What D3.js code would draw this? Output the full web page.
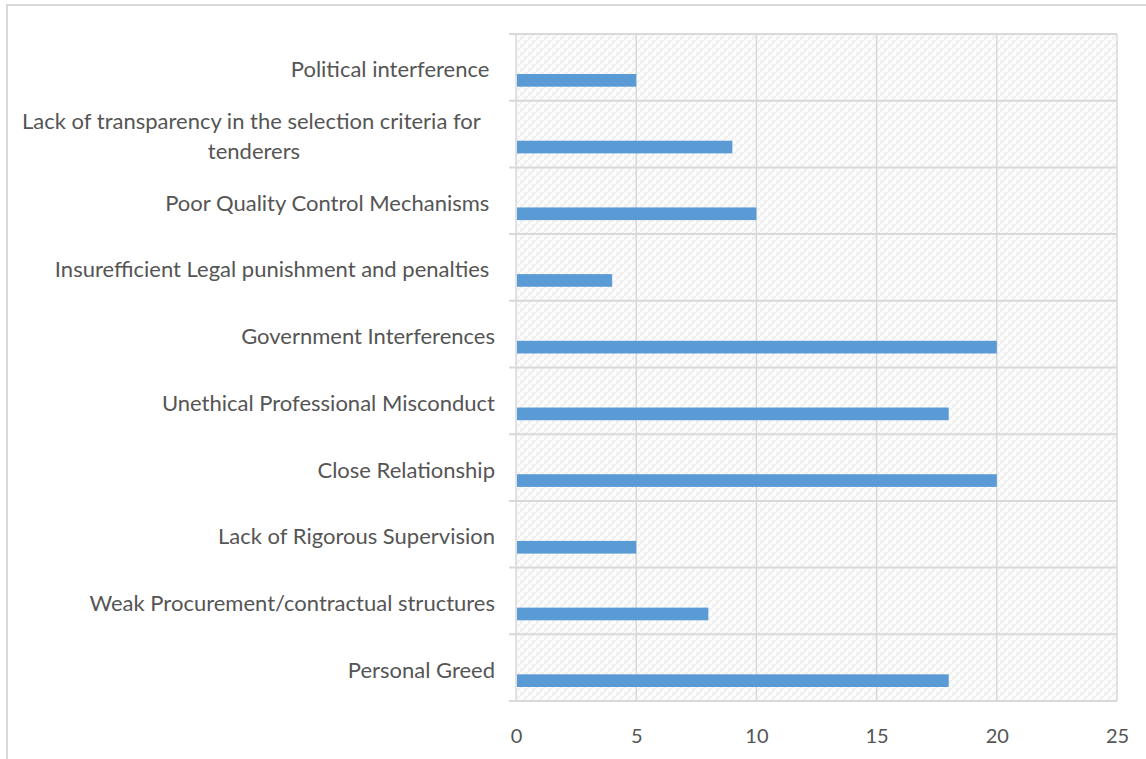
<!DOCTYPE html>
<html>
<head>
<meta charset="utf-8">
<script src="https://cdn.jsdelivr.net/npm/d3@7"></script>
<style>
  html, body { margin: 0; padding: 0; background: #fff; }
  svg text { font-family: Lato, "Open Sans", sans-serif; fill: #555555; white-space: pre; }
</style>
</head>
<body>
<svg id="chart" width="1146" height="759"></svg>
<script>
// Causes of corruption, top to bottom, with one or two label lines each
const categories = [
  "Political interference",
  "Lack of transparency in the selection criteria for tenderers",
  "Poor Quality Control Mechanisms",
  "Insurefficient Legal punishment and penalties",
  "Government Interferences",
  "Unethical Professional Misconduct",
  "Close Relationship",
  "Lack of Rigorous Supervision",
  "Weak Procurement/contractual structures",
  "Personal Greed"
];
const labelLines = [
  ["Political interference "],
  ["Lack of transparency in the selection criteria for ", "tenderers"],
  ["Poor Quality Control Mechanisms "],
  ["Insurefficient Legal punishment and penalties "],
  ["Government Interferences"],
  ["Unethical Professional Misconduct"],
  ["Close Relationship"],
  ["Lack of Rigorous Supervision"],
  ["Weak Procurement/contractual structures"],
  ["Personal Greed"]
];
const values = [5, 9, 10, 4, 20, 18, 20, 5, 8, 18];
const xTicks = [0, 5, 10, 15, 20, 25];

const svg = d3.select("#chart");
const plot = { left: 516, right: 1117, top: 34, bottom: 701 };
const grid = "#d9d9d9";

// Chart-area border
svg.append("rect")
  .attr("x", 7).attr("y", 5).attr("width", 1160).attr("height", 780)
  .attr("fill", "#fff").attr("stroke", grid).attr("stroke-width", 2);

// Light woven texture for the plot background
const defs = svg.append("defs");
const pat = defs.append("pattern")
  .attr("id", "weave").attr("patternUnits", "userSpaceOnUse")
  .attr("width", 8).attr("height", 8);
pat.append("rect").attr("width", 8).attr("height", 8).attr("fill", "#fcfcfc");
pat.append("path").attr("d", "M0,8 L8,0").attr("stroke", "#ececec").attr("stroke-width", 1.5);
pat.append("path").attr("d", "M0,4 L2,6 M4,0 L6,2").attr("stroke", "#f0f0f0").attr("stroke-width", 1.5);

const x = d3.scaleLinear().domain([0, 25]).range([plot.left, plot.right]);
const y = d3.scaleBand().domain(categories).range([plot.top, plot.bottom]).paddingInner(0).paddingOuter(0);

svg.append("rect")
  .attr("x", plot.left).attr("y", plot.top)
  .attr("width", plot.right - plot.left).attr("height", plot.bottom - plot.top)
  .attr("fill", "url(#weave)");

// Vertical value gridlines
svg.append("g").selectAll("line").data(xTicks).join("line")
  .attr("x1", d => x(d)).attr("x2", d => x(d))
  .attr("y1", plot.top).attr("y2", plot.bottom)
  .attr("stroke", grid).attr("stroke-width", 1.5);

// Category boundaries, extended left as outside tick marks
const bounds = categories.map(c => y(c)).concat([plot.bottom]);
svg.append("g").selectAll("line").data(bounds).join("line")
  .attr("x1", plot.left - 7).attr("x2", plot.right)
  .attr("y1", d => d).attr("y2", d => d)
  .attr("stroke", grid).attr("stroke-width", 2);

// Bars
const bw = y.bandwidth();
svg.append("g").selectAll("rect").data(values).join("rect")
  .attr("x", x(0) + 1)
  .attr("y", (d, i) => y(categories[i]) + bw * 0.6)
  .attr("width", d => x(d) - x(0) - 1)
  .attr("height", bw * 0.19)
  .attr("fill", "#5b9bd5");

// Category labels
const lineH = 30;
const labels = svg.append("g").attr("font-size", 22);
labelLines.forEach((lines, i) => {
  const cy = y(categories[i]) + bw / 2 + 1;
  const t = labels.append("text")
    .attr("text-anchor", lines.length > 1 ? "middle" : "end")
    .attr("dominant-baseline", "central");
  lines.forEach((ln, j) => {
    t.append("tspan")
      .attr("x", lines.length > 1 ? 254 : 495)
      .attr("y", cy + (j - (lines.length - 1) / 2) * lineH)
      .text(ln);
  });
});

// Value axis
const xAxis = d3.axisBottom(x).tickValues(xTicks).tickSize(0).tickPadding(0);
const gx = svg.append("g").attr("transform", `translate(0,${plot.bottom})`).call(xAxis);
gx.select(".domain").remove();
gx.selectAll("text")
  .attr("font-size", 20).attr("font-family", "Lato, sans-serif")
  .attr("fill", "#555555")
  .attr("dy", null).attr("y", 34).attr("dominant-baseline", "central");
</script>
</body>
</html>
